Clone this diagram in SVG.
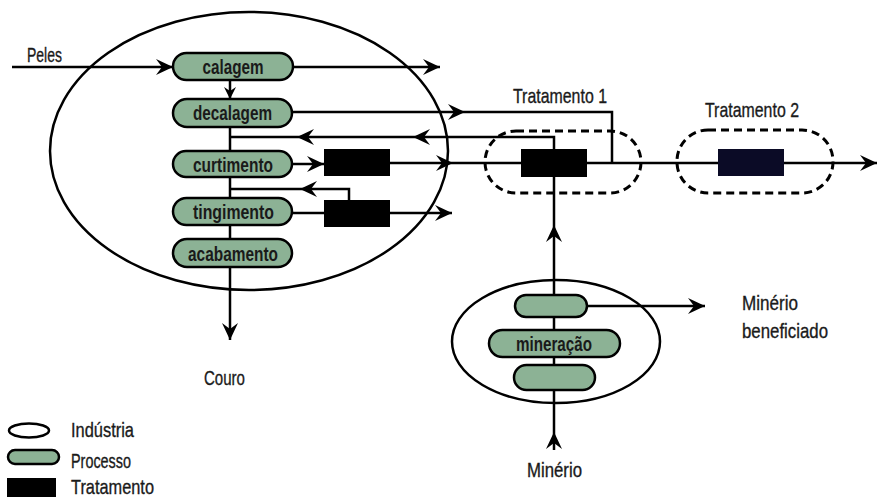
<svg xmlns="http://www.w3.org/2000/svg" width="880" height="498" viewBox="0 0 880 498">
<style>
  .bg{fill:#ffffff}
  .ind{fill:none;stroke:#000;stroke-width:2.5}
  .proc{fill:#8cb295;stroke:#000;stroke-width:2.5}
  .trat{fill:#000}
  .trat2{fill:#0b0b26}
  .dash{fill:none;stroke:#000;stroke-width:3;stroke-dasharray:8 5}
  .ln{fill:none;stroke:#000;stroke-width:2.5}
  .pt{font-family:"Liberation Sans Narrow","Liberation Sans",Arial,sans-serif;font-size:21px;font-weight:bold;fill:#1a1a1a;text-anchor:middle}
  .lb{font-family:"Liberation Sans Narrow","Liberation Sans",Arial,sans-serif;font-size:21px;fill:#1a1a1a;stroke:#1a1a1a;stroke-width:0.35}
</style>
<defs>
  <marker id="arr" markerUnits="userSpaceOnUse" markerWidth="20" markerHeight="18" viewBox="-18 -9 20 18" refX="0" refY="0" orient="auto">
    <path d="M0,0 L-17,-8 L-11,0 L-17,8 Z" fill="#000"/>
  </marker>
  <marker id="arrs" markerUnits="userSpaceOnUse" markerWidth="14" markerHeight="14" viewBox="-13 -7 14 14" refX="0" refY="0" orient="auto">
    <path d="M0,0 L-12,-6 L-8,0 L-12,6 Z" fill="#000"/>
  </marker>
</defs>
<rect class="bg" x="0" y="0" width="880" height="498"/>

<g id="industria-couro">
  <ellipse class="ind" cx="249" cy="151" rx="199" ry="139"/>
</g>
<g id="industria-mineracao">
  <ellipse class="ind" cx="556" cy="341.5" rx="104" ry="61.5"/>
</g>

<g id="connectors">
  <path class="ln" d="M12,67 H173" marker-end="url(#arr)"/>
  <path class="ln" d="M293,67 H440" marker-end="url(#arr)"/>
  <path class="ln" d="M230,80 V99" marker-end="url(#arrs)"/>
  <path class="ln" d="M230,127 V340" marker-end="url(#arr)"/>
  <path class="ln" d="M292,112 H465" marker-end="url(#arr)"/>
  <path class="ln" d="M465,112 H612 V163"/>
  <path class="ln" d="M554,149 V137 H413" marker-end="url(#arr)"/>
  <path class="ln" d="M413,137 H297" marker-end="url(#arr)"/>
  <path class="ln" d="M297,137 H230"/>
  <path class="ln" d="M292,164 H324" marker-end="url(#arr)"/>
  <path class="ln" d="M390,163 H453" marker-end="url(#arr)"/>
  <path class="ln" d="M453,163 H521"/>
  <path class="ln" d="M292,213 H324"/>
  <path class="ln" d="M390,213 H452" marker-end="url(#arr)"/>
  <path class="ln" d="M349,200 V189 H300" marker-end="url(#arr)"/>
  <path class="ln" d="M300,189 H230"/>
  <path class="ln" d="M587,163 H718"/>
  <path class="ln" d="M784,163 H877" marker-end="url(#arr)"/>
  <path class="ln" d="M554,450 V432" marker-end="url(#arr)"/>
  <path class="ln" d="M554,432 V225" marker-end="url(#arr)"/>
  <path class="ln" d="M554,225 V177"/>
  <path class="ln" d="M587,306 H705" marker-end="url(#arr)"/>
</g>

<g id="calagem">
  <rect class="proc" x="173" y="53" width="120" height="27" rx="13.5"/>
  <text class="pt" x="233" y="73.5" textLength="61" lengthAdjust="spacingAndGlyphs">calagem</text>
</g>
<g id="decalagem">
  <rect class="proc" x="173" y="99" width="119" height="28" rx="14"/>
  <text class="pt" x="232.5" y="120" textLength="79" lengthAdjust="spacingAndGlyphs">decalagem</text>
</g>
<g id="curtimento">
  <rect class="proc" x="173" y="151" width="119" height="26" rx="13"/>
  <text class="pt" x="233" y="171.5" textLength="80" lengthAdjust="spacingAndGlyphs">curtimento</text>
</g>
<g id="tingimento">
  <rect class="proc" x="173" y="198" width="119" height="27" rx="13.5"/>
  <text class="pt" x="233.5" y="219" textLength="81" lengthAdjust="spacingAndGlyphs">tingimento</text>
</g>
<g id="acabamento">
  <rect class="proc" x="173" y="239" width="119" height="28" rx="14"/>
  <text class="pt" x="233" y="260.5" textLength="90" lengthAdjust="spacingAndGlyphs">acabamento</text>
</g>

<g id="trat-curtimento">
  <rect class="trat" x="324" y="149" width="66" height="27"/>
</g>
<g id="trat-tingimento">
  <rect class="trat" x="324" y="200" width="66" height="27"/>
</g>

<g id="tratamento1">
  <rect class="dash" x="485" y="131" width="156" height="62" rx="31"/>
  <rect class="trat" x="521" y="149" width="66" height="28"/>
  <text class="lb" x="513" y="103" textLength="94" lengthAdjust="spacingAndGlyphs">Tratamento 1</text>
</g>
<g id="tratamento2">
  <rect class="dash" x="677" y="130" width="156" height="63" rx="31"/>
  <rect class="trat2" x="718" y="149" width="66" height="27"/>
  <text class="lb" x="705" y="117" textLength="94" lengthAdjust="spacingAndGlyphs">Tratamento 2</text>
</g>

<g id="mineracao-top">
  <rect class="proc" x="515" y="295" width="72" height="22" rx="11"/>
</g>
<g id="mineracao">
  <rect class="proc" x="489" y="330" width="131" height="27" rx="13.5"/>
  <text class="pt" x="554" y="350.5" textLength="76" lengthAdjust="spacingAndGlyphs">mineração</text>
</g>
<g id="mineracao-bottom">
  <rect class="proc" x="514" y="365" width="81" height="25" rx="12.5"/>
</g>

<g id="labels">
  <text class="lb" x="27" y="62" textLength="35" lengthAdjust="spacingAndGlyphs">Peles</text>
  <text class="lb" x="204" y="385" textLength="41" lengthAdjust="spacingAndGlyphs">Couro</text>
  <text class="lb" x="742" y="310" textLength="56" lengthAdjust="spacingAndGlyphs">Minério</text>
  <text class="lb" x="742" y="338" textLength="86" lengthAdjust="spacingAndGlyphs">beneficiado</text>
  <text class="lb" x="527" y="477" textLength="55" lengthAdjust="spacingAndGlyphs">Minério</text>
</g>

<g id="legend">
  <ellipse class="ind" cx="29" cy="430.5" rx="20" ry="7"/>
  <text class="lb" x="71" y="437" textLength="63" lengthAdjust="spacingAndGlyphs">Indústria</text>
  <rect class="proc" x="8" y="450" width="51" height="14" rx="7"/>
  <text class="lb" x="71" y="468" textLength="60" lengthAdjust="spacingAndGlyphs">Processo</text>
  <rect class="trat" x="7" y="478" width="49" height="19"/>
  <text class="lb" x="71" y="494" textLength="83" lengthAdjust="spacingAndGlyphs">Tratamento</text>
</g>
</svg>
